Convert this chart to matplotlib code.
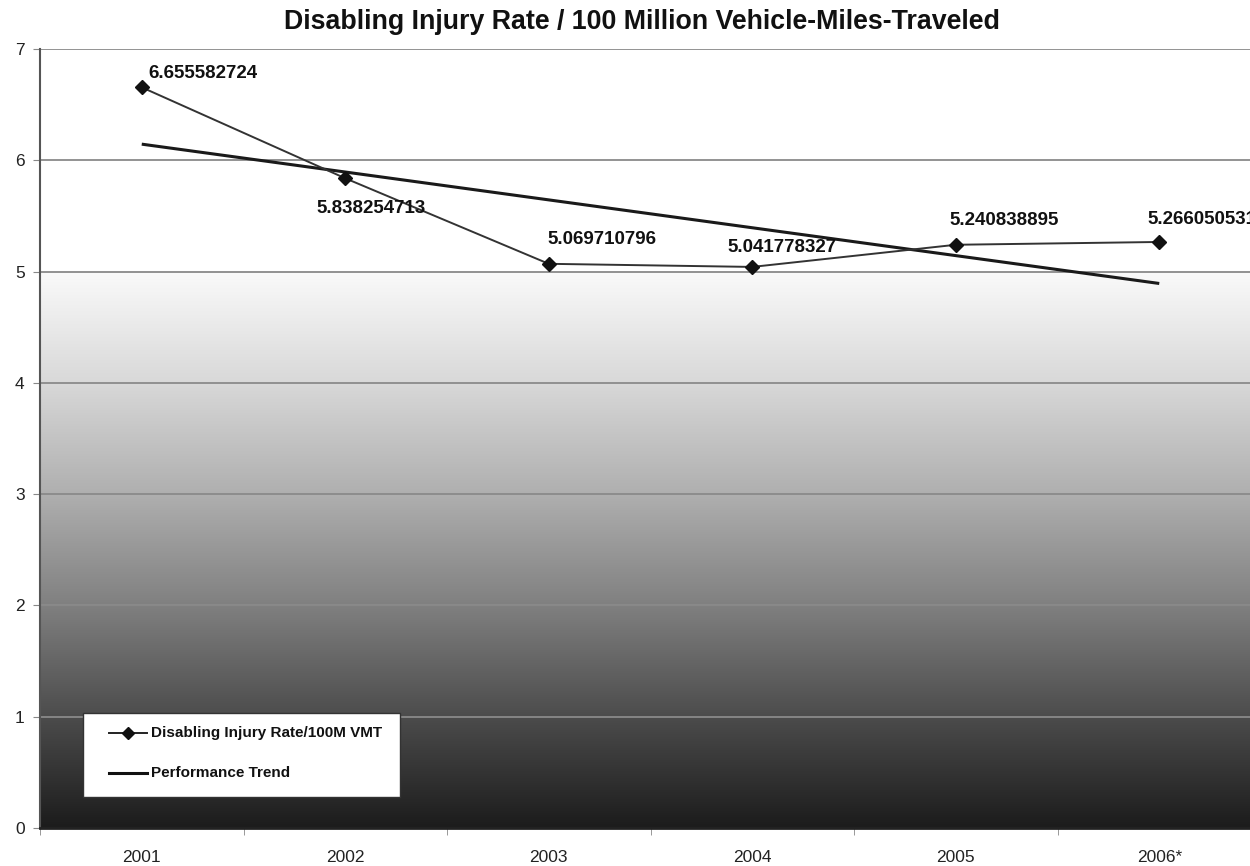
import numpy as np
import matplotlib
matplotlib.use("Agg")
import matplotlib.pyplot as plt
from matplotlib.colors import LinearSegmentedColormap
from matplotlib.lines import Line2D
from matplotlib.patches import Rectangle

years = ["2001", "2002", "2003", "2004", "2005", "2006*"]
rates = [6.655582724, 5.838254713, 5.069710796, 5.041778327, 5.240838895, 5.266050531]
labels = ["6.655582724", "5.838254713", "5.069710796", "5.041778327", "5.240838895", "5.266050531"]
trend_x = [0, 5]
trend_y = [6.145, 4.893]
yticks = [0, 1, 2, 3, 4, 5, 6, 7]

plt.rcParams['font.family'] = ['Liberation Sans', 'DejaVu Sans']

W, H = 1250, 866
fig = plt.figure(figsize=(12.5, 8.66), dpi=100)
ax = fig.add_axes([40/W, 38/H, 1221/W, 779/H])

x = np.arange(len(years))
ax.set_xlim(-0.5, 5.5)
ax.set_ylim(0, 7)

# gradient background (0 -> 5)
cmap = LinearSegmentedColormap.from_list("g", [(0.0, "#1c1c1c"), (0.2, "#4c4c4c"), (0.4, "#808080"),
                                               (0.6, "#afafaf"), (0.8, "#d8d8d8"), (1.0, "#fafafa")])
grad = np.linspace(0, 1, 256).reshape(-1, 1)
ax.imshow(grad, extent=[-0.5, 5.5, 0, 5], origin="lower", aspect="auto", cmap=cmap, zorder=0)

for yv in yticks[1:]:
    ax.axhline(yv, color="#8a8a8a", lw=1.3, zorder=1)

ax.plot(trend_x, trend_y, color="#1a1a1a", lw=2.2, zorder=3, solid_capstyle="butt")
ax.plot(x, rates, color="#333333", lw=1.4, marker="D", ms=7, mfc="#111111", mec="#111111", zorder=4)

offsets = [(7, 14, "left"), (26, -30, "center"), (-1, 24, "left"), (30, 19, "center"), (-6, 24, "left"), (-12, 22, "left")]
for xi, yi, lab, (dx, dy, ha) in zip(x, rates, labels, offsets):
    ax.annotate(lab, (xi, yi), xytext=(dx, dy), textcoords="offset pixels", ha=ha, va="center",
                fontsize=13.5, fontweight="bold", color="#111111", zorder=5)

ax.set_yticks(yticks)
ax.set_yticklabels([str(v) for v in yticks], fontsize=12.5, color="#222222")
ax.set_xticks(x)
ax.set_xticklabels(years, fontsize=12.5, color="#222222")
ax.set_xticks(np.arange(-0.5, 6, 1), minor=True)
ax.tick_params(axis="x", which="major", length=0, pad=16)
ax.tick_params(axis="x", which="minor", length=5, color="#888888", direction="out")
ax.tick_params(axis="y", length=5, color="#888888", pad=6)

for s in ["top", "right"]:
    ax.spines[s].set_visible(False)
ax.spines["left"].set_color("#555555")
ax.spines["left"].set_linewidth(1.5)
ax.spines["bottom"].set_color("#222222")
ax.spines["bottom"].set_linewidth(2)

fig.text(642/W, 1 - 22/H, "Disabling Injury Rate / 100 Million Vehicle-Miles-Traveled",
         ha="center", va="center", fontsize=19.3, fontweight="bold", color="#111111")

# legend box (figure pixel coordinates)
def fx(px):
    return px / W

def fy(py):
    return 1 - py / H

fig.patches.append(Rectangle((fx(83), fy(797)), (400-83)/W, (797-713)/H, transform=fig.transFigure,
                             facecolor="white", edgecolor="#333333", lw=1.0, zorder=6))
leg_labels = ["Disabling Injury Rate/100M VMT", "Performance Trend"]
rows = [733, 773]
fig.add_artist(Line2D([fx(109), fx(147)], [fy(rows[0])]*2, transform=fig.transFigure,
                      color="#222222", lw=1.4, zorder=7))
fig.add_artist(Line2D([fx(128)], [fy(rows[0])], transform=fig.transFigure, marker="D", ms=6.5,
                      mfc="#111111", mec="#111111", lw=0, zorder=8))
fig.add_artist(Line2D([fx(109), fx(147)], [fy(rows[1])]*2, transform=fig.transFigure,
                      color="#111111", lw=2.2, zorder=7))
for r, lab in zip(rows, leg_labels):
    fig.text(fx(151), fy(r), lab, ha="left", va="center", fontsize=11, fontweight="bold",
             color="#111111", zorder=8)

fig.savefig("out.png", dpi=100)
